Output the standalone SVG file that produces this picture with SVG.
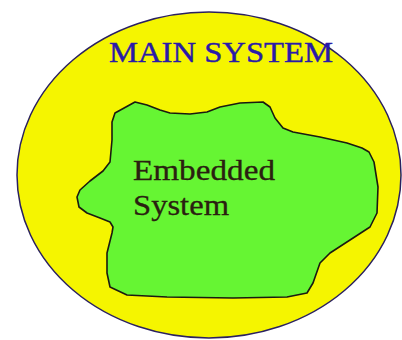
<svg xmlns="http://www.w3.org/2000/svg" width="402" height="340" viewBox="0 0 402 340">
<style>
.main{fill:#f5f500;stroke:#2a2060;stroke-width:1.5}
.blob{fill:#66f533;stroke:#1a1a10;stroke-width:1.6;stroke-linejoin:round}
.t1{font-family:"Liberation Serif",serif;font-size:29px;fill:#2a1aa8;stroke:#2a1aa8;stroke-width:0.4}
.t2{font-family:"Liberation Serif",serif;font-size:29px;fill:#2a2010;stroke:#2a2010;stroke-width:0.3}
</style>
<rect width="402" height="340" fill="#fff"/>
<g id="main-system">
<ellipse class="main" cx="209" cy="175" rx="192" ry="163"/>
<text class="t1" x="109" y="62" textLength="224" lengthAdjust="spacingAndGlyphs">MAIN SYSTEM</text>
</g>
<g id="embedded-system">
<path class="blob" d="M112,122 L115,113 L135,102 L147,105 L160,110 L170,113 L190,114 L207,112 L220,107 L240,103 L263,102 L270,107 L275,118 L283,128 L293,132 L320,137 L347,143 L362,148 L369,152 L374,162 L378,187 L377,213 L370,227 L350,240 L330,253 L320,263 L313,283 L307,293 L287,297 L233,298 L167,297 L127,295 L110,287 L107,273 L107,253 L112,233 L113,227 L110,222 L100,218 L87,213 L79,207 L77,197 L80,190 L90,181 L103,171 L110,162 L112,140 Z"/>
<text class="t2" x="133" y="180" textLength="142" lengthAdjust="spacingAndGlyphs">Embedded</text>
<text class="t2" x="133" y="215" textLength="96" lengthAdjust="spacingAndGlyphs">System</text>
</g>
</svg>
